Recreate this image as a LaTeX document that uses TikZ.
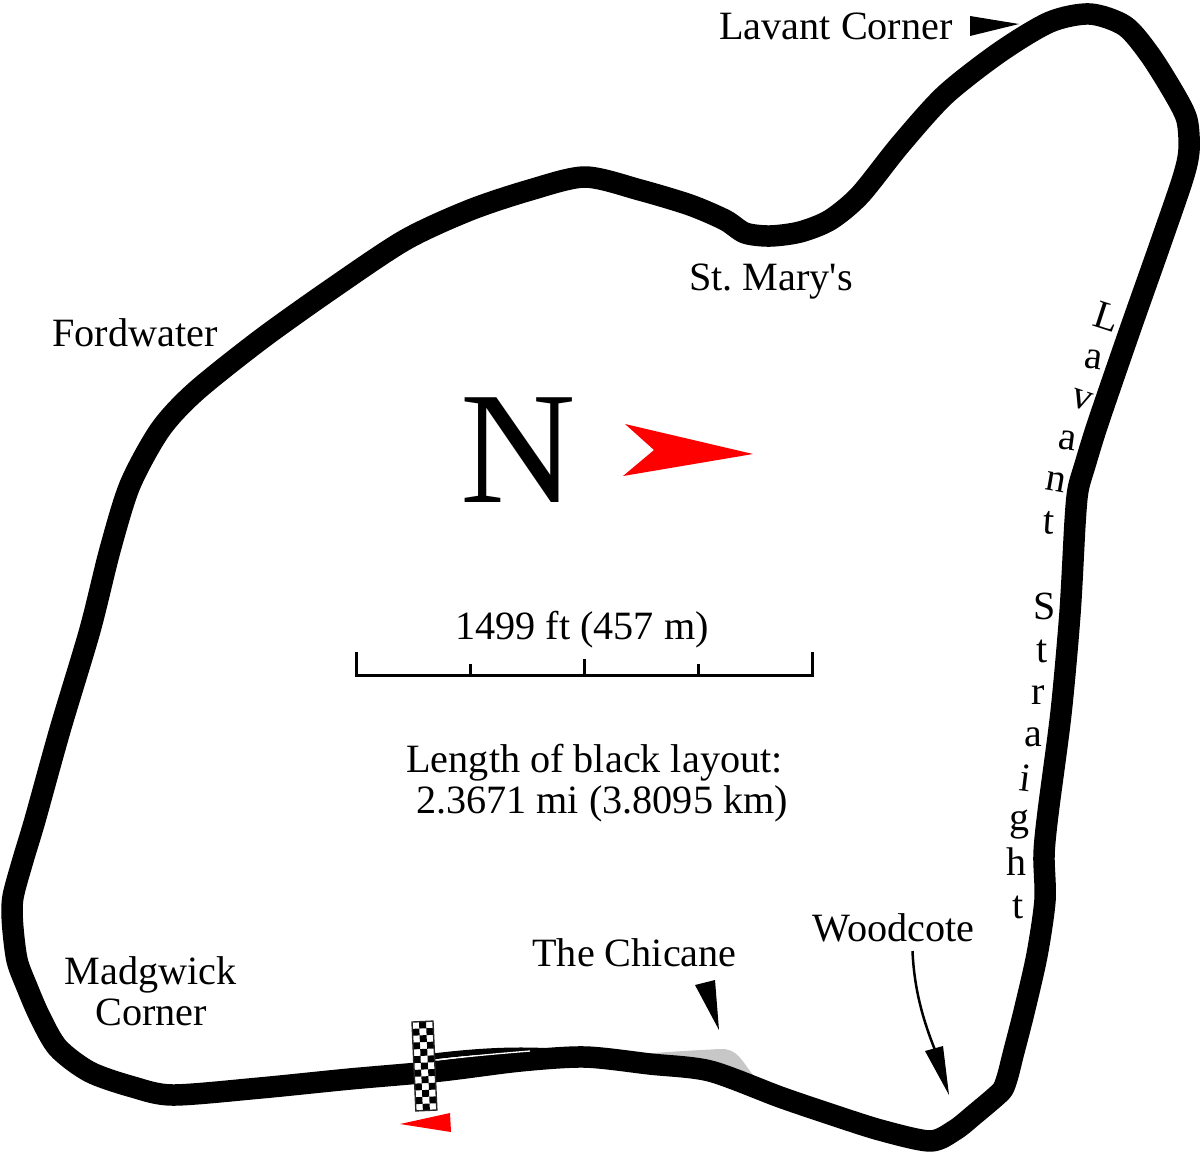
\documentclass[tikz,border=0pt]{standalone}
\usepackage{fontspec}
\setmainfont[Ligatures=TeXOff]{Liberation Serif}
\begin{document}
\frenchspacing
\begin{tikzpicture}[x=1pt,y=-1pt,
  lbl/.style={anchor=base,inner sep=0pt,outer sep=0pt,font=\fontsize{40.2}{40.2}\selectfont},
  ltr/.style={anchor=center,inner sep=0pt,outer sep=0pt,font=\fontsize{40}{40}\selectfont},
  track/.style={draw=black,line width=21.5pt,line join=round},
  scalebar/.style={draw=black,line width=3pt}]
\path[use as bounding box,fill=white] (0,0) rectangle (1201,1152);
% chicane run-off
\fill[black!22] (620,1056) .. controls (660,1052) and (700,1050) .. (720,1049)
  .. controls (738,1048) and (742,1062) .. (754,1076) -- (700,1066) -- cycle;
% old line
\draw[black,line width=6pt] (420,1058) .. controls (460,1053) and (500,1049) .. (545,1051);
% main track
\draw[track,smooth cycle,tension=0.48] plot coordinates {
(1090,14) (1125,26) (1150,55) (1175,95) (1187,120) (1189,150) (1183,178)
(1160,245) (1130,330) (1098,423) (1085,465) (1078,490) (1075,523) (1070,613) (1061,713)
(1048,813) (1044,855) (1045,900) (1037,955) (1024,1012) (1013,1055) (1008,1075) (1003,1089) (994,1098) (975,1114) (955,1130) (930,1141) (880,1130) (830,1114) (780,1097) (710,1071) (650,1064)
(585,1057) (520,1061) (440,1071) (350,1079) (260,1088) (173,1095) (133,1087)
(90,1072) (58,1048) (40,1017) (27,987) (17,960) (12.5,923) (13,897) (23,860) (35,820) (60,730)
(90,630) (110,550) (130,485) (160,430) (195,392) (260,340) (330,290) (405,240)
(470,210) (530,190) (585,177) (640,190) (690,205) (725,220) (745,233) (770,236) (800,232) (830,220)
(860,195) (900,145) (945,95) (1000,52) (1050,22)};
\draw[white,line width=1.3pt] (437,1060) .. controls (470,1056) and (505,1053) .. (530,1051);
% flag
\begin{scope}[shift={(412,1022)},rotate=2.5]
  \fill[white] (0,0) rectangle (21,89);
  \foreach \r in {0,...,12}{\foreach \c in {0,1,2}{
    \pgfmathtruncatemacro{\odd}{mod(\r+\c,2)}
    \ifnum\odd=1 \fill[black] ({\c*7},{\r*6.85}) rectangle ({(\c+1)*7},{(\r+1)*6.85});\fi}}
  \draw[black!85,line width=1.4pt] (0,0) rectangle (21,89);
\end{scope}
% pointers
\fill[red] (400,1124) -- (450,1113) -- (451,1132) -- cycle;
\fill[black] (970,16) -- (1019,24) -- (970,36) -- cycle;
\fill[black] (695,985) -- (715,980) -- (719,1030) -- cycle;
\fill[black] (925,1051) -- (943,1046) -- (949,1095) -- cycle;
\draw[black,line width=2.5pt] (912.5,951) .. controls (914,985) and (921,1015) .. (935,1050);
\fill[red] (625,424) -- (753,454) -- (623,476) -- (654,450) -- cycle;
% scale
\draw[scalebar] (356,652) -- (356,675.5) -- (812,675.5) -- (812,652);
\draw[scalebar] (470,664) -- (470,675);
\draw[scalebar] (584,659) -- (584,675);
\draw[scalebar] (698,664) -- (698,675);
% labels
\node[lbl] (lavant) at (836,39) {Lavant Corner};
\node[lbl] (mary) at (771,290) {St. Mary's};
\node[lbl] (ford) at (135,346) {Fordwater};
\node[lbl] (scale) at (582,639) {1499 ft (457 m)};
\node[lbl] (len1) at (594.5,772) {Length of black layout:};
\node[lbl] (len2) at (602,813) {2.3671 mi (3.8095 km)};
\node[lbl] (mad1) at (150.5,984) {Madgwick};
\node[lbl] (mad2) at (151,1025) {Corner};
\node[lbl] (chic) at (634.5,966) {The Chicane};
\node[lbl] (wood) at (893.5,941) {Woodcote};
\node[lbl,font=\fontsize{160}{160}\selectfont] (north) at (518,502) {N};
% straight letters
\node[ltr,rotate=-18] (s1) at (1107,317) {L};
\node[ltr,rotate=-8] (s2) at (1094,360) {a};
\node[ltr,rotate=-18] (s3) at (1082,400) {v};
\node[ltr,rotate=-8] (s4) at (1068,441) {a};
\node[ltr,rotate=-10] (s5) at (1056,482) {n};
\node[ltr,rotate=-4] (s6) at (1049,523) {t};
\node[ltr] (s7) at (1045,606) {S};
\node[ltr] (s8) at (1042,651) {t};
\node[ltr] (s9) at (1038,695) {r};
\node[ltr] (s10) at (1033,737) {a};
\node[ltr,rotate=-7] (s11) at (1026,778) {i};
\node[ltr] (s12) at (1019,825) {g};
\node[ltr] (s13) at (1016,862) {h};
\node[ltr] (s14) at (1018,907) {t};
\end{tikzpicture}
\end{document}
